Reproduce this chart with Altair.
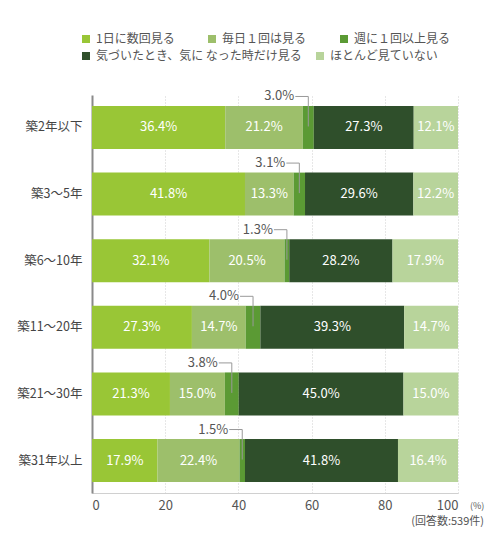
import altair as alt
import pandas as pd

categories = ["築2年以下", "築3～5年", "築6～10年", "築11～20年", "築21～30年", "築31年以上"]
series = ["1日に数回見る", "毎日１回は見る", "週に１回以上見る", "気づいたとき、気に なった時だけ見る", "ほとんど見ていない"]
colors = ["#99c636", "#9dbf6b", "#5b9a34", "#2f4f2b", "#b8d49b"]

s1 = [36.4, 41.8, 32.1, 27.3, 21.3, 17.9]
s2 = [21.2, 13.3, 20.5, 14.7, 15.0, 22.4]
s3 = [3.0, 3.1, 1.3, 4.0, 3.8, 1.5]
s4 = [27.3, 29.6, 28.2, 39.3, 45.0, 41.8]
s5 = [12.1, 12.2, 17.9, 14.7, 15.0, 16.4]

tick_values = [0, 20, 40, 60, 80, 100]
respondents = "(回答数:539件)"

rows = []
all_series = [s1, s2, s3, s4, s5]
for ci, cat in enumerate(categories):
    start = 0.0
    for si, name in enumerate(series):
        v = all_series[si][ci]
        rows.append({
            "category": cat, "series": name, "order": si, "value": v,
            "start": start, "end": start + v, "mid": start + v / 2,
            "label": f"{v:.1f}%",
        })
        start += v
df = pd.DataFrame(rows)

FONT = "Noto Sans CJK JP"

base = alt.Chart(df)
yenc = alt.Y("category:N", sort=categories,
             scale=alt.Scale(paddingInner=0.355, paddingOuter=0.165),
             axis=alt.Axis(title=None, ticks=False, domainColor="#8a8a8a", domainWidth=2,
                           labelFontSize=12.5, labelColor="#444", labelPadding=10, grid=False))
xenc = alt.X("start:Q", scale=alt.Scale(domain=[0, 100], nice=False),
             axis=alt.Axis(title=None, values=tick_values, ticks=False, grid=True,
                           gridDash=[1, 2], gridColor="#cfcfcf", domainColor="#d0d0d0",
                           labelFontSize=13, labelColor="#555", labelPadding=6))


def legend(y, gap):
    return alt.Legend(title=None, orient="none", legendX=-12, legendY=y,
                      direction="horizontal", symbolType="square", symbolSize=64,
                      symbolStrokeWidth=0, labelFontSize=12, labelColor="#555",
                      labelOffset=4, labelLimit=400, columnPadding=gap, padding=0)


bars_a = base.transform_filter(alt.datum.order <= 2).mark_bar().encode(
    x=xenc, x2="end:Q", y=yenc,
    color=alt.Color("series:N", sort=series[:3],
                    scale=alt.Scale(domain=series[:3], range=colors[:3]),
                    legend=legend(-62, 31)),
)
bars_b = base.transform_filter(alt.datum.order > 2).mark_bar().encode(
    x=xenc, x2="end:Q", y=yenc,
    color=alt.Color("series:N", sort=series[3:],
                    scale=alt.Scale(domain=series[3:], range=colors[3:]),
                    legend=legend(-45, 12)),
)

inner = base.transform_filter(alt.datum.order != 2).mark_text(
    color="white", fontSize=13, baseline="middle", align="center"
).encode(x="mid:Q", y=alt.Y("category:N", sort=categories), text="label:N")

third = base.transform_filter(alt.datum.order == 2)
vrule = third.mark_rule(color="#999", strokeWidth=1, yOffset=-31, y2Offset=-1).encode(
    x="mid:Q", y=alt.Y("category:N", sort=categories), y2="category:N")
hrule = third.mark_rule(color="#999", strokeWidth=1, xOffset=-13, yOffset=-31).encode(
    x="mid:Q", x2="mid:Q", y=alt.Y("category:N", sort=categories))
ctext = third.mark_text(color="#555", fontSize=13, align="right", baseline="middle",
                        dx=-14, dy=-31).encode(
    x="mid:Q", y=alt.Y("category:N", sort=categories), text="label:N")

note = pd.DataFrame({"t": [respondents]})
pct = alt.Chart(note).mark_text(text="(%)", fontSize=9, color="#555", align="left",
                                baseline="middle", dx=12).encode(
    x=alt.datum(100), y=alt.value(411))
resp = alt.Chart(note).mark_text(fontSize=11, color="#555", align="right",
                                 baseline="middle", dx=26).encode(
    x=alt.datum(100), y=alt.value(427), text="t:N")

chart = alt.layer(bars_a, bars_b, inner, vrule, hrule, ctext, pct, resp).resolve_scale(
    color="independent"
).properties(
    width=366, height=398,
    padding={"left": 84, "top": 87, "right": 34, "bottom": 34},
    autosize=alt.AutoSizeParams(type="none"),
).configure(font=FONT).configure_view(stroke=None)

chart.save("out.html", embed_options={"renderer": "svg", "actions": False})
